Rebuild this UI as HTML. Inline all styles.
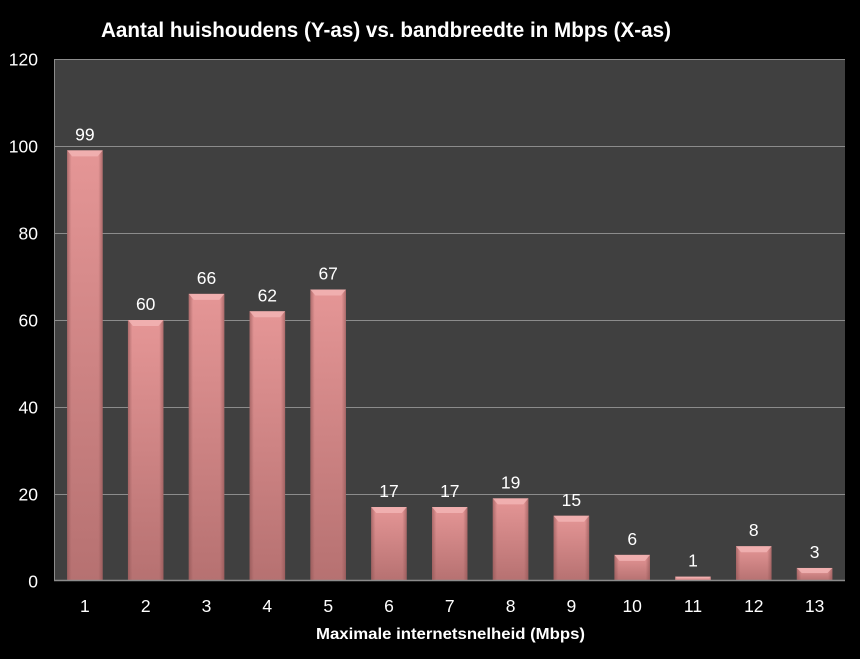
<!DOCTYPE html>
<html>
<head>
<meta charset="utf-8">
<style>
  html,body{margin:0;padding:0;background:#000;}
  svg{display:block;}
  text{font-family:"Liberation Sans", sans-serif; fill:#fff;}
</style>
</head>
<body>
<svg id="chart" width="860" height="659" viewBox="0 0 860 659" xmlns="http://www.w3.org/2000/svg">
  <defs>
    <linearGradient id="bar" x1="0" y1="0" x2="0" y2="1">
      <stop offset="0" stop-color="#e59696"/>
      <stop offset="1" stop-color="#b67171"/>
    </linearGradient>
    <linearGradient id="side" x1="0" y1="0" x2="1" y2="0">
      <stop offset="0" stop-color="#8a5050" stop-opacity="0.6"/>
      <stop offset="0.12" stop-color="#8a5050" stop-opacity="0"/>
      <stop offset="0.88" stop-color="#8a5050" stop-opacity="0"/>
      <stop offset="1" stop-color="#8a5050" stop-opacity="0.6"/>
    </linearGradient>
  </defs>

  <rect x="0" y="0" width="860" height="659" fill="#000"/>

  <text x="101" y="37" font-size="21" font-weight="bold" textLength="570" lengthAdjust="spacingAndGlyphs">Aantal huishoudens (Y-as) vs. bandbreedte in Mbps (X-as)</text>

  <rect x="54.5" y="59" width="790.5" height="522" fill="#404040"/>
  <path d="M54.5 59.5H845M54.5 146.5H845M54.5 233.5H845M54.5 320.5H845M54.5 407.5H845M54.5 494.5H845M54.5 59V581" stroke="#8c8c8c" stroke-width="1" fill="none"/>

  <g id="bars"></g>

  <line x1="54" y1="580.5" x2="845" y2="580.5" stroke="#8c8c8c" stroke-width="1.5"/>

  <g font-size="17.5" text-anchor="end">
    <text x="38" y="65.5">120</text>
    <text x="38" y="152.5">100</text>
    <text x="38" y="239.5">80</text>
    <text x="38" y="326.5">60</text>
    <text x="38" y="413.5">40</text>
    <text x="38" y="500.5">20</text>
    <text x="38" y="587.5">0</text>
  </g>

  <g font-size="17.5" text-anchor="middle">
    <text x="84.9" y="612">1</text>
    <text x="145.7" y="612">2</text>
    <text x="206.5" y="612">3</text>
    <text x="267.3" y="612">4</text>
    <text x="328.2" y="612">5</text>
    <text x="389.0" y="612">6</text>
    <text x="449.8" y="612">7</text>
    <text x="510.6" y="612">8</text>
    <text x="571.4" y="612">9</text>
    <text x="632.2" y="612">10</text>
    <text x="693.0" y="612">11</text>
    <text x="753.8" y="612">12</text>
    <text x="814.6" y="612">13</text>
  </g>

  <text x="316" y="639" font-size="16" font-weight="bold" textLength="269" lengthAdjust="spacingAndGlyphs">Maximale internetsnelheid (Mbps)</text>

  <g font-size="17.5" text-anchor="middle">
    <text x="84.9" y="140.4">99</text>
    <text x="145.7" y="310">60</text>
    <text x="206.5" y="283.9">66</text>
    <text x="267.3" y="301.3">62</text>
    <text x="328.2" y="279.6">67</text>
    <text x="389.0" y="497.1">17</text>
    <text x="449.8" y="497.1">17</text>
    <text x="510.6" y="488.4">19</text>
    <text x="571.4" y="505.8">15</text>
    <text x="632.2" y="544.9">6</text>
    <text x="693.0" y="566.7">1</text>
    <text x="753.8" y="536.2">8</text>
    <text x="814.6" y="558">3</text>
  </g>
</svg>
<script>
(function(){
  var vals=[99,60,66,62,67,17,17,19,15,6,1,8,3];
  var g=document.getElementById('bars');
  var NS='http://www.w3.org/2000/svg';
  var x0=54.5,cw=790.5/13,bw=35.5,base=581,k=4.35;
  vals.forEach(function(v,i){
    var c=x0+cw*(i+0.5),l=c-bw/2,r=c+bw/2,t=base-v*k,h=base-t;
    var b=document.createElementNS(NS,'rect');
    b.setAttribute('x',l);b.setAttribute('y',t);b.setAttribute('width',bw);b.setAttribute('height',h);
    b.setAttribute('fill',h>6?'url(#bar)':'#e09292');
    g.appendChild(b);
    if(h>6){
      var s=document.createElementNS(NS,'rect');
      s.setAttribute('x',l);s.setAttribute('y',t);s.setAttribute('width',bw);s.setAttribute('height',h);
      s.setAttribute('fill','url(#side)');
      g.appendChild(s);
    }
    var bev=Math.min(6,h*0.4),ins=Math.min(5,bev);
    var p=document.createElementNS(NS,'polygon');
    p.setAttribute('points',l+','+t+' '+r+','+t+' '+(r-ins)+','+(t+bev)+' '+(l+ins)+','+(t+bev));
    p.setAttribute('fill','#f2b4b4');p.setAttribute('opacity','0.85');
    g.appendChild(p);
  });
})();
</script>
</body>
</html>
